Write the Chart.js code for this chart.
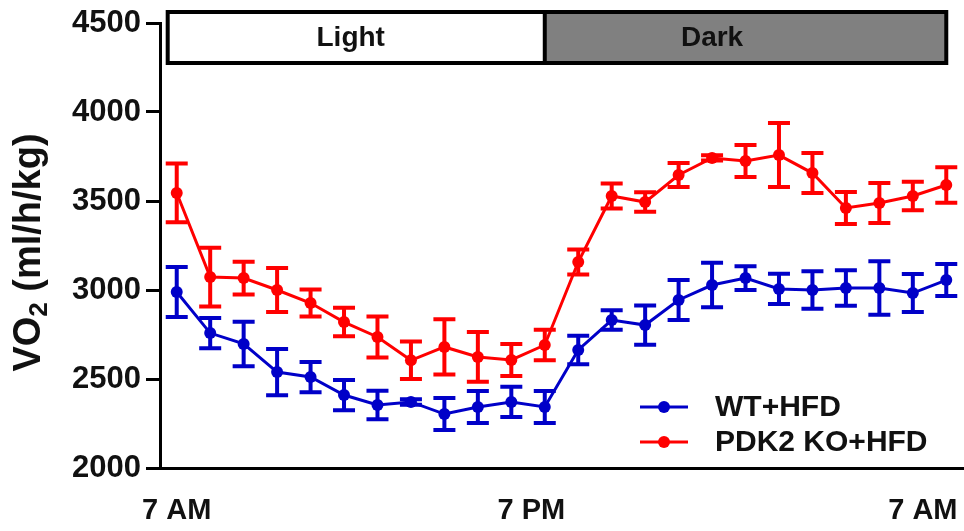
<!DOCTYPE html>
<html>
<head>
<meta charset="utf-8">
<script src="https://cdn.jsdelivr.net/npm/chart.js@4.4.1/dist/chart.umd.min.js"></script>
<style>
html,body{margin:0;padding:0;background:#fff;}
#wrap{width:964px;height:531px;position:relative;}
</style>
</head>
<body>
<div id="wrap"><canvas id="c" width="964" height="531"></canvas></div>
<script>
// ---- data (hours after 7 AM) ----
const hours = [0,1,2,3,4,5,6,7,8,9,10,11,12,13,14,15,16,17,18,19,20,21,22,23];
const seriesNames = ['WT+HFD', 'PDK2 KO+HFD'];
const wtMean = [2989,2758,2697,2539,2511,2410,2354,2371,2303,2343,2371,2343,2663,2831,2803,2944,3028,3067,3006,3000,3011,3011,2983,3056];
const wtSem  = [140,85,125,130,85,85,80,15,90,90,85,90,80,55,110,112,125,67,85,105,100,150,107,90];
const koMean = [3545,3073,3067,3000,2927,2820,2736,2605,2680,2624,2607,2691,3157,3528,3494,3646,3742,3725,3758,3657,3461,3489,3528,3590];
const koSem  = [165,165,92,124,76,80,115,105,155,140,90,85,70,70,55,67,15,90,180,112,90,112,80,100];
const xTickValues = [0, 10.6, 22.3];
const xTickLabels = ['7 AM', '7 PM', '7 AM'];
const yMin = 2000, yMax = 4500, yStep = 500;
const yTitleParts = ['VO', '2', ' (ml/h/kg)'];   // main, subscript, rest
const phaseLabels = ['Light', 'Dark'];
const phaseEdges = [-0.27, 11, 23];
const phaseLabelX = [5.2, 16];

const FONT = '"Liberation Sans", Arial, sans-serif';
const TXT = '#111';
const BLUE = '#0000c8';
const RED = '#ff0000';

const toPts = (m) => m.map((v, i) => ({x: hours[i], y: v}));

const errorBars = {
  id: 'errorBars',
  beforeDatasetsDraw(chart) {
    const ctx = chart.ctx, xs = chart.scales.x, ys = chart.scales.y;
    chart.data.datasets.forEach((ds) => {
      ctx.save();
      ctx.strokeStyle = ds.borderColor;
      ctx.lineWidth = 4;
      ds.data.forEach((p, i) => {
        const e = ds.sem[i];
        const x = xs.getPixelForValue(p.x);
        const yt = ys.getPixelForValue(p.y + e);
        const yb = ys.getPixelForValue(p.y - e);
        ctx.beginPath();
        ctx.moveTo(x, yt); ctx.lineTo(x, yb);
        ctx.moveTo(x - 11, yt); ctx.lineTo(x + 11, yt);
        ctx.moveTo(x - 11, yb); ctx.lineTo(x + 11, yb);
        ctx.stroke();
      });
      ctx.restore();
    });
  }
};

const phaseBox = {
  id: 'phaseBox',
  afterDraw(chart) {
    const {ctx, chartArea: a, scales: {x}} = chart;
    const top = a.top - 11, h = 51;
    const px = phaseEdges.map(v => x.getPixelForValue(v));
    ctx.save();
    ctx.fillStyle = '#fff';
    ctx.fillRect(px[0], top, px[1] - px[0], h);
    ctx.fillStyle = '#808080';
    ctx.fillRect(px[1], top, px[2] - px[1], h);
    ctx.lineWidth = 4;
    ctx.strokeStyle = '#000';
    ctx.strokeRect(px[0], top, px[2] - px[0], h);
    ctx.beginPath();
    ctx.moveTo(px[1], top); ctx.lineTo(px[1], top + h);
    ctx.stroke();
    ctx.font = 'bold 28px ' + FONT;
    ctx.fillStyle = TXT;
    ctx.textAlign = 'center';
    ctx.textBaseline = 'middle';
    phaseLabels.forEach((t, i) => ctx.fillText(t, x.getPixelForValue(phaseLabelX[i]), top + h / 2 + 1));
    ctx.restore();
  }
};

const yTitle = {
  id: 'yTitle',
  afterDraw(chart) {
    const {ctx, chartArea: a} = chart;
    const mainF = 'bold 38px ' + FONT, subF = 'bold 26px ' + FONT;
    ctx.save();
    ctx.font = mainF; const w0 = ctx.measureText(yTitleParts[0]).width;
    const w2 = ctx.measureText(yTitleParts[2]).width;
    ctx.font = subF; const w1 = ctx.measureText(yTitleParts[1]).width;
    const total = w0 + w1 + w2;
    const cx = 27, cy = (a.top + a.bottom) / 2 + 7;
    ctx.translate(cx, cy);
    ctx.rotate(-Math.PI / 2);
    ctx.fillStyle = TXT;
    ctx.textAlign = 'left';
    ctx.textBaseline = 'alphabetic';
    const base = 13;
    let xpos = -total / 2;
    ctx.font = mainF; ctx.fillText(yTitleParts[0], xpos, base); xpos += w0;
    ctx.font = subF; ctx.fillText(yTitleParts[1], xpos, base + 7); xpos += w1;
    ctx.font = mainF; ctx.fillText(yTitleParts[2], xpos, base);
    ctx.restore();
  }
};

const innerLegend = {
  id: 'innerLegend',
  afterDraw(chart) {
    const {ctx, chartArea: a} = chart;
    chart.data.datasets.forEach((ds, i) => {
      const y = a.bottom - 61 + i * 35;
      const x0 = a.right - 323, x1 = a.right - 275;
      ctx.save();
      ctx.strokeStyle = ds.borderColor;
      ctx.fillStyle = ds.borderColor;
      ctx.lineWidth = 3;
      ctx.beginPath(); ctx.moveTo(x0, y); ctx.lineTo(x1, y); ctx.stroke();
      ctx.beginPath(); ctx.arc((x0 + x1) / 2, y, 6, 0, Math.PI * 2); ctx.fill();
      ctx.font = 'bold 30px ' + FONT;
      ctx.fillStyle = TXT;
      ctx.textAlign = 'left';
      ctx.textBaseline = 'middle';
      ctx.fillText(ds.label, a.right - 248, y + 1);
      ctx.restore();
    });
  }
};

new Chart(document.getElementById('c'), {
  type: 'line',
  data: {
    datasets: [
      {label: seriesNames[0], data: toPts(wtMean), sem: wtSem, borderColor: BLUE, backgroundColor: BLUE,
       borderWidth: 3, pointRadius: 6, pointBorderWidth: 0, pointBackgroundColor: BLUE, tension: 0},
      {label: seriesNames[1], data: toPts(koMean), sem: koSem, borderColor: RED, backgroundColor: RED,
       borderWidth: 3, pointRadius: 6, pointBorderWidth: 0, pointBackgroundColor: RED, tension: 0}
    ]
  },
  options: {
    responsive: false,
    animation: false,
    devicePixelRatio: 1,
    layout: {padding: {top: 23, right: 1, left: 0, bottom: 0}, autoPadding: false},
    plugins: {legend: {display: false}, tooltip: {enabled: false}},
    scales: {
      x: {
        type: 'linear', min: -0.5, max: 23.5,
        grid: {display: true, drawOnChartArea: false, drawTicks: false},
        border: {display: true, color: '#000', width: 3},
        afterBuildTicks: (s) => { s.ticks = xTickValues.map(v => ({value: v})); },
        afterFit: (s) => { s.height = 63; s.paddingLeft = 0; s.paddingRight = 0; },
        ticks: {
          autoSkip: false, maxRotation: 0, padding: 26,
          color: TXT, font: {family: FONT, size: 29, weight: 'bold'},
          callback: (v, i) => xTickLabels[i]
        }
      },
      y: {
        min: yMin, max: yMax,
        grid: {display: true, drawOnChartArea: false, drawTicks: true, tickLength: 14, tickWidth: 3, tickColor: '#000'},
        border: {display: true, color: '#000', width: 3},
        afterFit: (s) => { s.width = 160; s.paddingTop = 0; s.paddingBottom = 0; },
        ticks: {stepSize: yStep, padding: 5, color: TXT, font: {family: FONT, size: 31, weight: 'bold'},
                callback: (v) => String(v)},
        title: {display: false}
      }
    }
  },
  plugins: [errorBars, phaseBox, yTitle, innerLegend]
});
</script>
</body>
</html>
